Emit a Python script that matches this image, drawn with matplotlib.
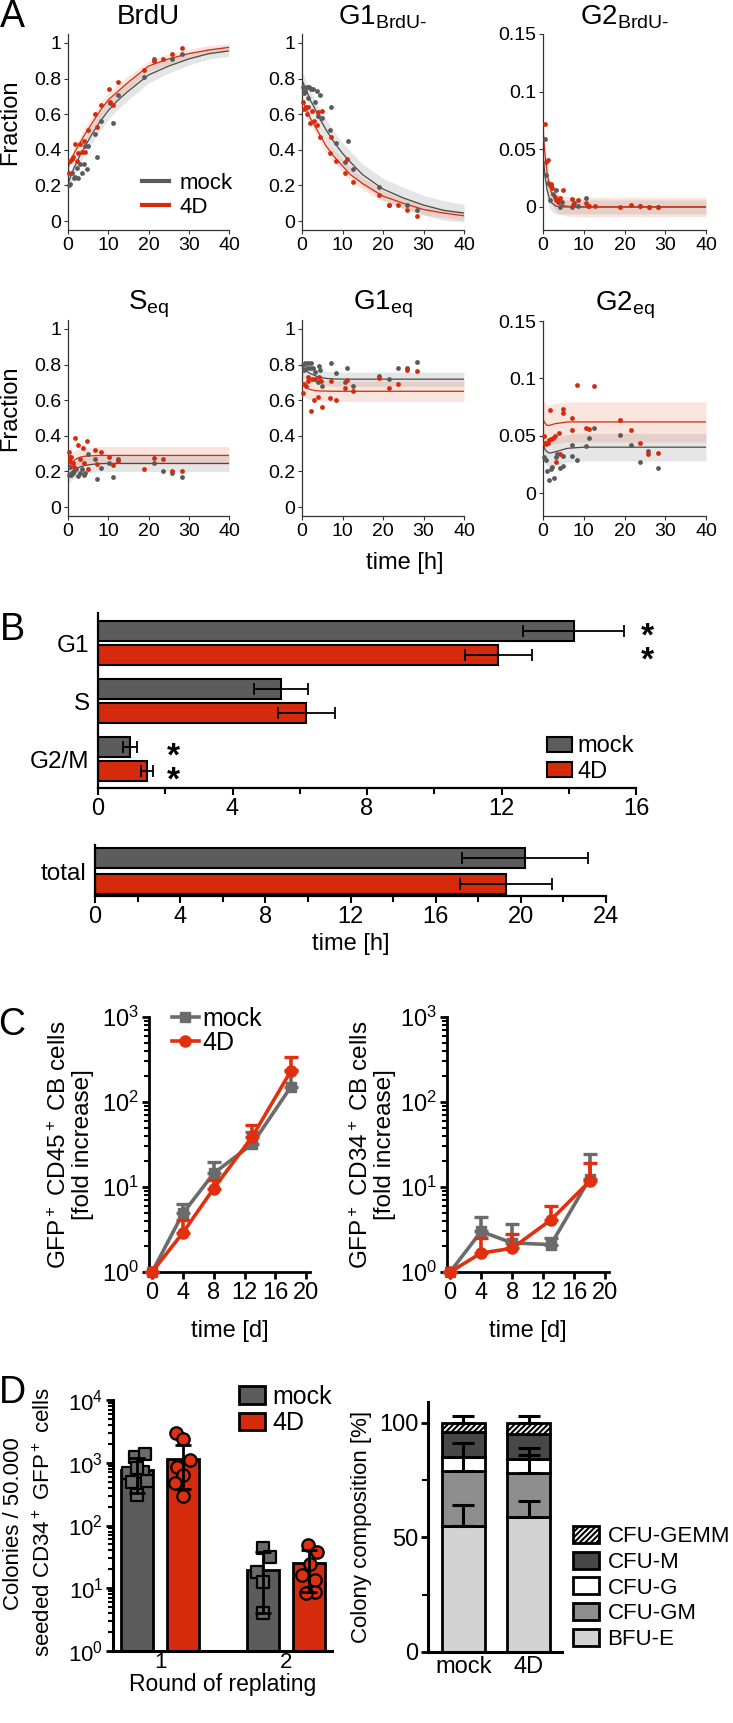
import matplotlib
matplotlib.use('Agg')
import matplotlib.pyplot as plt
import numpy as np
from matplotlib.patches import Patch
from matplotlib.lines import Line2D

plt.rcParams['font.family'] = ['Liberation Sans', 'DejaVu Sans']
plt.rcParams['mathtext.fontset'] = 'custom'
plt.rcParams['mathtext.rm'] = 'Liberation Sans'
plt.rcParams['mathtext.it'] = 'Liberation Sans:italic'
plt.rcParams['mathtext.bf'] = 'Liberation Sans:bold'
plt.rcParams['hatch.linewidth'] = 1.5

# ---------------- data: panel A (fraction vs time [h]) ----------------
t_fit = [0, 0.5, 1, 1.5, 2, 3, 4, 6, 8, 10, 12, 15, 20, 25, 30, 35, 40]

brdu_t_mock = [0.15, 0.6, 1.0, 1.4, 1.8, 2.2, 2.6, 3.0, 3.5, 3.9, 4.3, 4.7, 4.9, 6.8, 7.2, 8.2, 10.5, 11.3, 12.3, 18.8, 21.3, 25.8, 28.3]
brdu_v_mock = [0.20, 0.21, 0.27, 0.24, 0.25, 0.30, 0.24, 0.32, 0.27, 0.32, 0.42, 0.29, 0.42, 0.49, 0.36, 0.56, 0.66, 0.55, 0.71, 0.81, 0.91, 0.91, 0.94]
brdu_t_4d = [0.15, 0.5, 0.9, 1.3, 1.8, 2.2, 2.6, 3.1, 3.5, 3.9, 4.3, 4.9, 6.8, 7.2, 8.3, 10.1, 10.5, 11.2, 12.4, 18.8, 21.3, 23.6, 25.8, 28.3]
brdu_v_4d = [0.27, 0.34, 0.35, 0.36, 0.43, 0.34, 0.38, 0.43, 0.39, 0.45, 0.39, 0.51, 0.60, 0.53, 0.65, 0.74, 0.67, 0.65, 0.78, 0.85, 0.90, 0.91, 0.94, 0.97]
brdu_fit_mock = [0.21, 0.24, 0.27, 0.30, 0.32, 0.37, 0.41, 0.49, 0.56, 0.62, 0.67, 0.73, 0.82, 0.87, 0.91, 0.94, 0.955]
brdu_fit_4d = [0.30, 0.33, 0.35, 0.38, 0.40, 0.44, 0.48, 0.55, 0.62, 0.68, 0.72, 0.78, 0.87, 0.91, 0.94, 0.96, 0.975]
brdu_band_mock = [0.03, 0.03, 0.035, 0.035, 0.04, 0.04, 0.045, 0.05, 0.05, 0.05, 0.05, 0.05, 0.045, 0.04, 0.035, 0.03, 0.03]
brdu_band_4d = [0.03, 0.03, 0.03, 0.035, 0.035, 0.035, 0.035, 0.04, 0.04, 0.04, 0.04, 0.035, 0.03, 0.03, 0.025, 0.025, 0.02]

g1b_t_mock = [0.25, 0.6, 0.8, 1.2, 1.5, 1.8, 2.2, 2.7, 3.1, 3.6, 4.0, 4.5, 5.0, 6.9, 7.2, 8.5, 10.5, 11.3, 12.6, 19.0, 21.5, 25.9, 28.5]
g1b_v_mock = [0.75, 0.72, 0.73, 0.75, 0.69, 0.75, 0.74, 0.74, 0.67, 0.73, 0.59, 0.71, 0.58, 0.51, 0.64, 0.44, 0.33, 0.45, 0.29, 0.19, 0.09, 0.09, 0.06]
g1b_t_4d = [0.25, 0.6, 1.0, 1.2, 1.6, 1.9, 2.5, 2.9, 3.7, 4.0, 4.4, 4.9, 6.9, 7.2, 8.5, 10.5, 11.2, 12.6, 19.0, 21.5, 23.8, 25.9, 28.5]
g1b_v_4d = [0.67, 0.63, 0.64, 0.60, 0.64, 0.55, 0.62, 0.56, 0.54, 0.61, 0.47, 0.62, 0.38, 0.47, 0.34, 0.27, 0.35, 0.22, 0.145, 0.09, 0.09, 0.06, 0.03]
g1b_fit_mock = [0.79, 0.765, 0.74, 0.71, 0.68, 0.64, 0.59, 0.51, 0.44, 0.38, 0.33, 0.26, 0.18, 0.13, 0.09, 0.06, 0.045]
g1b_fit_4d = [0.68, 0.655, 0.63, 0.605, 0.58, 0.54, 0.50, 0.42, 0.36, 0.31, 0.26, 0.21, 0.14, 0.10, 0.065, 0.045, 0.03]
g1b_band_mock = [0.05, 0.05, 0.05, 0.05, 0.05, 0.055, 0.055, 0.06, 0.06, 0.06, 0.06, 0.06, 0.06, 0.06, 0.055, 0.055, 0.05]
g1b_band_4d = [0.03, 0.03, 0.03, 0.03, 0.035, 0.035, 0.035, 0.035, 0.035, 0.035, 0.035, 0.035, 0.03, 0.03, 0.03, 0.025, 0.025]

g2b_t_mock = [0.4, 0.8, 1.2, 1.6, 2.0, 2.5, 3.1, 3.7, 4.1, 4.6, 7.0, 7.5, 8.6, 10.5, 11.1, 23.8, 25.9, 28.3]
g2b_v_mock = [0.059, 0.028, 0.021, 0.006, 0.019, 0.011, 0.015, 0.006, 0.0, 0.004, 0.0, 0.003, 0.001, 0.008, 0.001, 0.001, 0.0, 0.0]
g2b_t_4d = [0.4, 0.7, 1.2, 1.6, 1.9, 2.3, 2.9, 3.3, 3.7, 4.1, 4.9, 7.0, 7.4, 8.6, 10.5, 11.3, 12.7, 19.0, 21.5, 23.8, 25.9, 28.3]
g2b_v_4d = [0.072, 0.039, 0.041, 0.019, 0.020, 0.016, 0.009, 0.006, 0.004, 0.008, 0.015, 0.007, 0.002, 0.006, 0.003, 0.001, 0.001, 0.0, 0.002, 0.001, 0.0, 0.0]
g2b_fit_mock = [0.045, 0.027, 0.015, 0.008, 0.004, 0.001, 0.0, 0.0, 0.0, 0.0, 0.0, 0.0, 0.0, 0.0, 0.0, 0.0, 0.0]
g2b_fit_4d = [0.067, 0.045, 0.030, 0.020, 0.013, 0.006, 0.002, 0.0005, 0.0, 0.0, 0.0, 0.0, 0.0, 0.0, 0.0, 0.0, 0.0]
g2b_band_mock = [0.010, 0.009, 0.008, 0.008, 0.007, 0.007, 0.006, 0.006, 0.006, 0.006, 0.006, 0.006, 0.006, 0.006, 0.006, 0.006, 0.006]
g2b_band_4d = [0.010, 0.010, 0.009, 0.009, 0.0085, 0.0085, 0.0085, 0.0085, 0.0085, 0.0085, 0.0085, 0.0085, 0.0085, 0.0085, 0.0085, 0.0085, 0.0085]

s_t_mock = [0.2, 0.6, 0.8, 1.2, 1.6, 2.1, 2.4, 2.9, 3.5, 3.9, 4.3, 4.9, 6.8, 7.1, 8.3, 10.3, 11.2, 12.4, 21.3, 23.7, 25.8, 28.3]
s_v_mock = [0.18, 0.225, 0.18, 0.19, 0.20, 0.215, 0.175, 0.19, 0.215, 0.18, 0.19, 0.30, 0.27, 0.16, 0.22, 0.25, 0.17, 0.27, 0.25, 0.20, 0.19, 0.17]
s_t_4d = [0.2, 0.4, 0.6, 0.8, 1.2, 1.5, 1.8, 2.6, 3.0, 3.7, 4.0, 4.7, 4.9, 6.8, 7.1, 8.3, 10.3, 11.3, 12.4, 18.8, 21.3, 23.7, 25.8, 28.3]
s_v_4d = [0.31, 0.28, 0.26, 0.28, 0.25, 0.225, 0.39, 0.35, 0.27, 0.33, 0.245, 0.37, 0.215, 0.32, 0.24, 0.31, 0.28, 0.235, 0.26, 0.215, 0.275, 0.27, 0.20, 0.20]
s_fit_mock = [0.18, 0.19, 0.20, 0.21, 0.215, 0.225, 0.233, 0.240, 0.244, 0.245, 0.245, 0.245, 0.245, 0.245, 0.245, 0.245, 0.245]
s_fit_4d = [0.22, 0.235, 0.25, 0.26, 0.27, 0.28, 0.285, 0.288, 0.29, 0.29, 0.29, 0.29, 0.29, 0.29, 0.29, 0.29, 0.29]
s_band_mock = [0.045, 0.045, 0.045, 0.045, 0.045, 0.045, 0.045, 0.045, 0.045, 0.045, 0.045, 0.045, 0.045, 0.045, 0.045, 0.045, 0.045]
s_band_4d = [0.05, 0.05, 0.05, 0.05, 0.05, 0.05, 0.05, 0.05, 0.05, 0.05, 0.05, 0.05, 0.05, 0.05, 0.05, 0.05, 0.05]

g1e_t_mock = [0.25, 0.6, 0.8, 1.2, 1.5, 1.9, 2.3, 2.7, 3.1, 3.9, 4.1, 4.5, 4.9, 7.2, 8.5, 10.5, 11.2, 12.6, 19.0, 21.5, 23.8, 25.9, 28.5]
g1e_v_mock = [0.80, 0.77, 0.81, 0.78, 0.81, 0.78, 0.81, 0.78, 0.76, 0.70, 0.79, 0.77, 0.68, 0.81, 0.75, 0.70, 0.78, 0.68, 0.735, 0.72, 0.78, 0.78, 0.815]
g1e_t_4d = [0.25, 0.6, 1.0, 1.4, 1.6, 2.1, 2.5, 2.9, 3.3, 3.9, 4.1, 4.8, 4.9, 6.9, 7.2, 8.5, 10.5, 11.2, 12.6, 19.0, 21.5, 23.8, 25.9, 28.5]
g1e_v_4d = [0.64, 0.69, 0.68, 0.705, 0.73, 0.54, 0.72, 0.60, 0.72, 0.62, 0.73, 0.71, 0.56, 0.615, 0.705, 0.60, 0.67, 0.715, 0.65, 0.725, 0.67, 0.69, 0.77, 0.765]
g1e_fit_mock = [0.78, 0.772, 0.765, 0.757, 0.75, 0.74, 0.73, 0.722, 0.719, 0.718, 0.718, 0.718, 0.718, 0.718, 0.718, 0.718, 0.718]
g1e_fit_4d = [0.69, 0.68, 0.67, 0.665, 0.66, 0.655, 0.652, 0.651, 0.65, 0.65, 0.65, 0.65, 0.65, 0.65, 0.65, 0.65, 0.65]
g1e_band_mock = [0.04, 0.04, 0.04, 0.04, 0.04, 0.04, 0.04, 0.04, 0.04, 0.04, 0.04, 0.04, 0.04, 0.04, 0.04, 0.04, 0.04]
g1e_band_4d = [0.057, 0.057, 0.057, 0.057, 0.057, 0.057, 0.057, 0.057, 0.057, 0.057, 0.057, 0.057, 0.057, 0.057, 0.057, 0.057, 0.057]

g2e_t_mock = [0.2, 0.7, 1.0, 1.5, 1.9, 2.1, 2.6, 3.1, 3.4, 4.1, 4.9, 4.9, 7.0, 7.2, 8.4, 10.5, 11.3, 12.5, 19.0, 21.5, 23.8, 25.8, 28.3]
g2e_v_mock = [0.031, 0.029, 0.019, 0.0114, 0.021, 0.0226, 0.013, 0.031, 0.034, 0.022, 0.024, 0.032, 0.032, 0.0416, 0.029, 0.041, 0.048, 0.057, 0.051, 0.0416, 0.0275, 0.0366, 0.022]
g2e_t_4d = [0.2, 0.5, 0.8, 1.2, 1.5, 1.8, 2.0, 2.5, 2.9, 3.3, 3.9, 4.1, 4.9, 4.9, 7.0, 7.2, 8.4, 10.5, 11.3, 12.5, 19.0, 21.5, 23.8, 25.8, 28.3]
g2e_v_4d = [0.0495, 0.044, 0.043, 0.044, 0.046, 0.072, 0.047, 0.048, 0.0495, 0.027, 0.052, 0.034, 0.073, 0.070, 0.065, 0.055, 0.0946, 0.057, 0.056, 0.0935, 0.064, 0.055, 0.044, 0.034, 0.035]
g2e_fit_mock = [0.043, 0.038, 0.036, 0.035, 0.035, 0.036, 0.037, 0.039, 0.0395, 0.040, 0.040, 0.040, 0.040, 0.040, 0.040, 0.040, 0.040]
g2e_fit_4d = [0.064, 0.061, 0.059, 0.059, 0.0595, 0.0605, 0.061, 0.062, 0.062, 0.062, 0.062, 0.062, 0.062, 0.062, 0.062, 0.062, 0.062]
g2e_band_mock = [0.012, 0.012, 0.012, 0.012, 0.012, 0.012, 0.012, 0.012, 0.012, 0.012, 0.012, 0.012, 0.012, 0.012, 0.012, 0.012, 0.012]
g2e_band_4d = [0.0175, 0.0175, 0.0175, 0.0175, 0.0175, 0.0175, 0.0175, 0.0175, 0.0175, 0.0175, 0.0175, 0.0175, 0.0175, 0.0175, 0.0175, 0.0175, 0.0175]

# ---------------- data: panel B (phase durations [h]) ----------------
phases = ['G1', 'S', 'G2/M']
phase_mock = [14.15, 5.45, 0.95]
phase_mock_err = [1.5, 0.8, 0.22]
phase_4d = [11.9, 6.2, 1.46]
phase_4d_err = [1.0, 0.85, 0.17]
total_mock, total_mock_err = 20.2, 2.95
total_4d, total_4d_err = 19.3, 2.15

# ---------------- data: panel C (fold increase) ----------------
days = [0, 4, 8, 13, 18]
cd45_mock = [1, 4.9, 14.5, 32, 150]
cd45_mock_err = [0, 1.4, 5, 12, 90]
cd45_4d = [1, 2.9, 9.6, 39, 230]
cd45_4d_err = [0, 1.2, 2.4, 15, 110]
cd34_mock = [1, 3.0, 2.2, 2.1, 12.5]
cd34_mock_err = [0, 1.4, 1.5, 0.4, 12]
cd34_4d = [1, 1.67, 1.9, 4.1, 11.7]
cd34_4d_err = [0, 0.85, 0.9, 1.8, 7.3]

# ---------------- data: panel D ----------------
rounds = ['1', '2']
col_mock = [770, 19.5]
col_mock_lo = [330, 4]
col_mock_hi = [1200, 38]
col_4d = [1150, 25]
col_4d_lo = [380, 8.6]
col_4d_hi = [1900, 41]
pts_mock_r1 = [1250, 1375, 675, 700, 840, 500, 520, 305]
jit_mock_r1 = [-0.016, 0.063, -0.071, 0.048, 0.0, -0.04, 0.079, 0.0]
pts_mock_r2 = [43, 31, 18, 12.6, 4.0]
jit_mock_r2 = [0.0, 0.056, -0.048, 0.0, 0.0]
pts_4d_r1 = [3000, 2400, 1100, 860, 640, 470, 290]
jit_4d_r1 = [-0.056, 0.0, 0.056, -0.048, 0.0, -0.063, 0.0]
pts_4d_r2 = [49, 38, 24, 16, 13.4, 8.7, 8.3]
jit_4d_r2 = [-0.008, 0.063, 0.008, -0.056, 0.048, 0.048, -0.024]

comp_names = ['BFU-E', 'CFU-GM', 'CFU-G', 'CFU-M', 'CFU-GEMM']
comp_mock = [55, 24, 6, 11, 4]
comp_4d = [59, 19, 6, 11, 5]
comp_mock_err = [9, 12, 0, 0, 3]
comp_4d_err = [7, 11, 2, 0, 3]

GREY = '#5c5c5c'
RED = '#d52b0c'
W, H = 733, 1723
fig = plt.figure(figsize=(W / 100, H / 100), dpi=100)


def box(x0, y0, x1, y1):
    return fig.add_axes([x0 / W, 1 - y1 / H, (x1 - x0) / W, (y1 - y0) / H])


def kinetics(ax, title, tm, vm, td, vd, fm, fd, bm, bd, ylim, yt, ytl):
    tf = np.array(t_fit)
    for f, b, fc, a in [(fm, bm, '#9a9a9a', 0.25), (fd, bd, '#e8795c', 0.2)]:
        f = np.array(f)
        b = np.array(b)
        ax.fill_between(tf, f - b, f + b, color=fc, alpha=a, lw=0)
    ax.plot(tf, fm, color='#4a4a4a', lw=0.9)
    ax.plot(tf, fd, color=RED, lw=0.9)
    ax.scatter(tm, vm, s=12, color='#5a5a5a', lw=0, zorder=3, clip_on=False)
    ax.scatter(td, vd, s=12, color=RED, lw=0, zorder=3, clip_on=False)
    ax.set_xlim(0, 40)
    ax.set_ylim(*ylim)
    ax.set_xticks([0, 10, 20, 30, 40])
    ax.set_yticks(yt)
    ax.set_yticklabels(ytl)
    ax.set_title(title, fontsize=20, pad=7)
    for s in ['top', 'right']:
        ax.spines[s].set_visible(False)
    for s in ['left', 'bottom']:
        ax.spines[s].set_color('#333333')
        ax.spines[s].set_linewidth(0.9)
    ax.tick_params(direction='out', length=3, width=0.8, color='#333333', labelsize=14, pad=2)


frac_t = [0, 0.2, 0.4, 0.6, 0.8, 1]
frac_l = ['0', '0.2', '0.4', '0.6', '0.8', '1']
g2_t = [0, 0.05, 0.1, 0.15]
g2_l = ['0', '0.05', '0.1', '0.15']

ax = box(68, 34, 229, 230)
kinetics(ax, 'BrdU', brdu_t_mock, brdu_v_mock, brdu_t_4d, brdu_v_4d, brdu_fit_mock, brdu_fit_4d,
         brdu_band_mock, brdu_band_4d, (-0.05, 1.05), frac_t, frac_l)
hl = [Line2D([], [], color='#5a5a5a', lw=3), Line2D([], [], color=RED, lw=3)]
ax.legend(hl, ['mock', '4D'], loc='lower right', bbox_to_anchor=(1.02, 0.06), frameon=False,
          fontsize=16, handlelength=1.2, handletextpad=0.45, labelspacing=0.15, borderpad=0, borderaxespad=0)

ax = box(302, 34, 464, 230)
kinetics(ax, r'G1$_{\text{BrdU-}}$', g1b_t_mock, g1b_v_mock, g1b_t_4d, g1b_v_4d, g1b_fit_mock, g1b_fit_4d,
         g1b_band_mock, g1b_band_4d, (-0.05, 1.05), frac_t, frac_l)
ax = box(543, 34, 706, 230)
kinetics(ax, r'G2$_{\text{BrdU-}}$', g2b_t_mock, g2b_v_mock, g2b_t_4d, g2b_v_4d, g2b_fit_mock, g2b_fit_4d,
         g2b_band_mock, g2b_band_4d, (-0.02, 0.15), g2_t, g2_l)

ax = box(68, 320, 229, 516)
kinetics(ax, r'S$_{\mathrm{eq}}$', s_t_mock, s_v_mock, s_t_4d, s_v_4d, s_fit_mock, s_fit_4d,
         s_band_mock, s_band_4d, (-0.05, 1.05), frac_t, frac_l)
ax = box(302, 320, 464, 516)
kinetics(ax, r'G1$_{\mathrm{eq}}$', g1e_t_mock, g1e_v_mock, g1e_t_4d, g1e_v_4d, g1e_fit_mock, g1e_fit_4d,
         g1e_band_mock, g1e_band_4d, (-0.05, 1.05), frac_t, frac_l)
ax = box(543, 321, 706, 516)
kinetics(ax, r'G2$_{\mathrm{eq}}$', g2e_t_mock, g2e_v_mock, g2e_t_4d, g2e_v_4d, g2e_fit_mock, g2e_fit_4d,
         g2e_band_mock, g2e_band_4d, (-0.02, 0.15), g2_t, g2_l)

fig.text(10 / W, 1 - 122 / H, 'Fraction', rotation=90, fontsize=17, ha='center', va='center')
fig.text(10 / W, 1 - 408 / H, 'Fraction', rotation=90, fontsize=17, ha='center', va='center')
fig.text(405 / W, 1 - 563 / H, 'time [h]', fontsize=17, ha='center', va='center')

# ---------------- panel B ----------------
def bstyle(ax):
    for s in ['top', 'right']:
        ax.spines[s].set_visible(False)
    for s in ['left', 'bottom']:
        ax.spines[s].set_linewidth(1.6)
    ax.tick_params(axis='x', which='major', direction='out', length=5, width=1.5, labelsize=17, pad=2)
    ax.tick_params(axis='x', which='minor', direction='out', length=4, width=1.5)
    ax.tick_params(axis='y', length=0, labelsize=17.5, pad=6)


ekw = dict(ecolor='black', elinewidth=1.3, capsize=4.3, capthick=1.3)
axb = box(98, 613, 636, 788)
yy = np.arange(len(phases))
axb.barh(yy - 0.21, phase_mock, height=0.345, color=GREY, edgecolor='black', lw=1.5,
         xerr=phase_mock_err, error_kw=ekw)
axb.barh(yy + 0.21, phase_4d, height=0.345, color=RED, edgecolor='black', lw=1.5,
         xerr=phase_4d_err, error_kw=ekw)
axb.set_xlim(0, 16)
axb.set_ylim(2.5, -0.52)
axb.set_yticks(yy)
axb.set_yticklabels(phases)
axb.set_xticks([0, 4, 8, 12, 16])
axb.set_xticks([2, 6, 10, 14], minor=True)
bstyle(axb)
# stacked significance asterisks (one text per pair)
for xs, ys in [(16.35, -0.07), (2.25, 1.99)]:
    axb.annotate('*\n*', xy=(xs, ys), xytext=(0, -7.4), textcoords='offset points', fontsize=24,
                 fontweight='bold', ha='center', va='center', linespacing=0.7, annotation_clip=False)
hb = [Patch(facecolor=GREY, edgecolor='black', lw=1.5), Patch(facecolor=RED, edgecolor='black', lw=1.5)]
axb.legend(hb, ['mock', '4D'], loc='upper left', bbox_to_anchor=(0.835, 0.30), frameon=False, fontsize=17,
           handlelength=1.05, handleheight=0.6, handletextpad=0.25, labelspacing=0.15, borderpad=0, borderaxespad=0)

axt = box(95, 845, 606, 896)
axt.barh([0], [total_mock], height=0.77, color=GREY, edgecolor='black', lw=1.5, xerr=[total_mock_err], error_kw=ekw)
axt.barh([1], [total_4d], height=0.77, color=RED, edgecolor='black', lw=1.5, xerr=[total_4d_err], error_kw=ekw)
axt.set_xlim(0, 24)
axt.set_ylim(1.46, -0.5)
axt.set_yticks([0.5])
axt.set_yticklabels(['total'])
axt.set_xticks([0, 4, 8, 12, 16, 20, 24])
axt.set_xticks([2, 6, 10, 14, 18, 22], minor=True)
bstyle(axt)
axt.set_xlabel('time [h]', fontsize=17, labelpad=4)

# ---------------- panel C ----------------
def cplot(ax, m, me, d, de, ylab, xlab_x):
    zero = [0] * len(days)
    ax.errorbar(days, m, yerr=[zero, me], color='#6b6b6b', marker='s', ms=7.5, lw=2.6, capsize=5,
                capthick=2.4, clip_on=False, zorder=3)
    ax.errorbar(days, d, yerr=[zero, de], color='#e0300f', marker='o', ms=8, lw=2.6, capsize=5,
                capthick=2.4, clip_on=False, zorder=4)
    ax.set_yscale('log')
    ax.set_ylim(1, 1000)
    ax.set_xlim(-0.4, 20.5)
    ax.set_yticks([1, 10, 100, 1000])
    ax.set_yticklabels(['$10^0$', '$10^1$', '$10^2$', '$10^3$'])
    ax.set_xticks([0, 4, 8, 12, 16, 20])
    for s in ['top', 'right']:
        ax.spines[s].set_visible(False)
    for s in ['left', 'bottom']:
        ax.spines[s].set_linewidth(2)
    ax.tick_params(which='major', direction='out', length=5, width=2, labelsize=17, pad=2)
    ax.tick_params(which='minor', direction='out', length=3.5, width=1.5)
    ax.set_xlabel('time [d]', fontsize=17, labelpad=12)
    fig.text(xlab_x / W, 1 - 1145 / H, ylab, rotation=90, fontsize=17.5, ha='center', va='center',
             multialignment='center', linespacing=1.05)


axc1 = box(149, 1017, 310, 1272)
cplot(axc1, cd45_mock, cd45_mock_err, cd45_4d, cd45_4d_err, 'GFP$^+$ CD45$^+$ CB cells\n[fold increase]', 71)
hc = [Line2D([], [], color='#6b6b6b', marker='s', ms=7.5, lw=2.6),
      Line2D([], [], color='#e0300f', marker='o', ms=8, lw=2.6)]
axc1.legend(hc, ['mock', '4D'], loc='upper left', bbox_to_anchor=(0.14, 1.04), frameon=False, fontsize=18,
            handlelength=1.1, handletextpad=0.15, labelspacing=0.0, borderpad=0, borderaxespad=0)
axc2 = box(447, 1017, 609, 1272)
cplot(axc2, cd34_mock, cd34_mock_err, cd34_4d, cd34_4d_err, 'GFP$^+$ CD34$^+$ CB cells\n[fold increase]', 373)

# ---------------- panel D left ----------------
axd = box(113, 1400, 332, 1651)
axd.set_yscale('log')
xg = np.arange(len(rounds))
off = 0.183
axd.bar(xg - off, col_mock, width=0.254, color=GREY, edgecolor='black', lw=2, zorder=2)
axd.bar(xg + off, col_4d, width=0.254, color=RED, edgecolor='black', lw=2, zorder=2)
for i, (pts, jit) in enumerate([(pts_mock_r1, jit_mock_r1), (pts_mock_r2, jit_mock_r2)]):
    axd.scatter(xg[i] - off + np.array(jit), pts, marker='s', s=70, color='#6a6a6a', edgecolor='black', lw=1.6, zorder=3)
for i, (pts, jit) in enumerate([(pts_4d_r1, jit_4d_r1), (pts_4d_r2, jit_4d_r2)]):
    axd.scatter(xg[i] + off + np.array(jit), pts, marker='o', s=80, color='#e0300f', edgecolor='black', lw=1.6, zorder=3)
cm = np.array(col_mock)
c4 = np.array(col_4d)
axd.errorbar(xg - off, cm, yerr=[cm - np.array(col_mock_lo), np.array(col_mock_hi) - cm], fmt='none',
             ecolor='black', elinewidth=2, capsize=6, capthick=2, zorder=4)
axd.errorbar(xg + off, c4, yerr=[c4 - np.array(col_4d_lo), np.array(col_4d_hi) - c4], fmt='none',
             ecolor='black', elinewidth=2, capsize=6, capthick=2, zorder=4)
axd.set_ylim(1, 10000)
axd.set_xlim(-0.373, 1.365)
axd.set_yticks([1, 10, 100, 1000, 10000])
axd.set_yticklabels(['$10^0$', '$10^1$', '$10^2$', '$10^3$', '$10^4$'])
axd.set_xticks(xg)
axd.set_xticklabels(rounds)
for s in ['top', 'right']:
    axd.spines[s].set_visible(False)
for s in ['left', 'bottom']:
    axd.spines[s].set_linewidth(2.2)
axd.tick_params(axis='y', which='major', direction='out', length=5, width=2, labelsize=16, pad=2)
axd.tick_params(axis='y', which='minor', direction='out', length=3.5, width=1.5)
axd.tick_params(axis='x', length=0, labelsize=16, pad=1)
axd.set_xlabel('Round of replating', fontsize=16.5, labelpad=0)
hd = [Patch(facecolor=GREY, edgecolor='black', lw=2), Patch(facecolor=RED, edgecolor='black', lw=2)]
axd.legend(hd, ['mock', '4D'], loc='upper left', bbox_to_anchor=(0.575, 1.06), frameon=False, fontsize=18,
           handlelength=1.05, handleheight=0.7, handletextpad=0.3, labelspacing=0.1, borderpad=0, borderaxespad=0)
# two-line y label written as two texts so the short first line stays clear of the panel letter
fig.text(14 / W, 1 - 1524 / H, 'Colonies / 50.000', rotation=90,
         fontsize=16, ha='center', va='center')
fig.text(44 / W, 1 - 1522 / H, 'seeded CD34$^+$ GFP$^+$ cells', rotation=90,
         fontsize=16, ha='center', va='center')

# ---------------- panel D right ----------------
axr = box(428, 1402, 562, 1652)
comp_colors = ['#d3d3d3', '#8e8e8e', 'white', '#474747', 'white']
comp_hatch = [None, None, None, None, '//////']
xc = np.arange(2)
bottoms = np.zeros(2)
tops = []
for k in range(len(comp_names)):
    vals = np.array([comp_mock[k], comp_4d[k]])
    axr.bar(xc, vals, bottom=bottoms, width=0.66, color=comp_colors[k], edgecolor='black', lw=2,
            hatch=comp_hatch[k], zorder=2)
    bottoms = bottoms + vals
    tops.append(bottoms.copy())
for k in range(len(comp_names)):
    errs = np.array([comp_mock_err[k], comp_4d_err[k]])
    for j in range(2):
        if errs[j] > 0:
            axr.errorbar([xc[j]], [tops[k][j]], yerr=[[0], [errs[j]]], fmt='none', ecolor='black',
                         elinewidth=2.2, capsize=8, capthick=2.2, zorder=4, clip_on=False)
axr.set_ylim(0, 109)
axr.set_xlim(-0.546, 1.515)
axr.set_yticks([0, 50, 100])
axr.set_yticks([25, 75], minor=True)
axr.set_xticks(xc)
axr.set_xticklabels(['mock', '4D'])
for s in ['top', 'right']:
    axr.spines[s].set_visible(False)
for s in ['left', 'bottom']:
    axr.spines[s].set_linewidth(2.2)
axr.tick_params(axis='y', which='major', direction='out', length=5, width=2, labelsize=17, pad=2)
axr.tick_params(axis='y', which='minor', direction='out', length=4, width=1.5)
axr.tick_params(axis='x', length=0, labelsize=17, pad=3)
hr = [Patch(facecolor=comp_colors[k], edgecolor='black', lw=2, hatch=comp_hatch[k]) for k in range(4, -1, -1)]
fig.legend(hr, [comp_names[k] for k in range(4, -1, -1)], loc='upper left',
           bbox_to_anchor=(573 / W, 1 - 1526 / H), frameon=False, fontsize=16, handlelength=1.15,
           handleheight=0.8, handletextpad=0.4, labelspacing=0.2, borderpad=0, borderaxespad=0)
fig.text(362 / W, 1 - 1527 / H, 'Colony composition [%]', rotation=90, fontsize=16, ha='center', va='center')

# panel letters
for lab, yc in [('A', 17), ('B', 630), ('C', 1025), ('D', 1393)]:
    fig.text(12 / W, 1 - yc / H, lab, fontsize=27, ha='center', va='center')

fig.savefig('out.png', dpi=100)
